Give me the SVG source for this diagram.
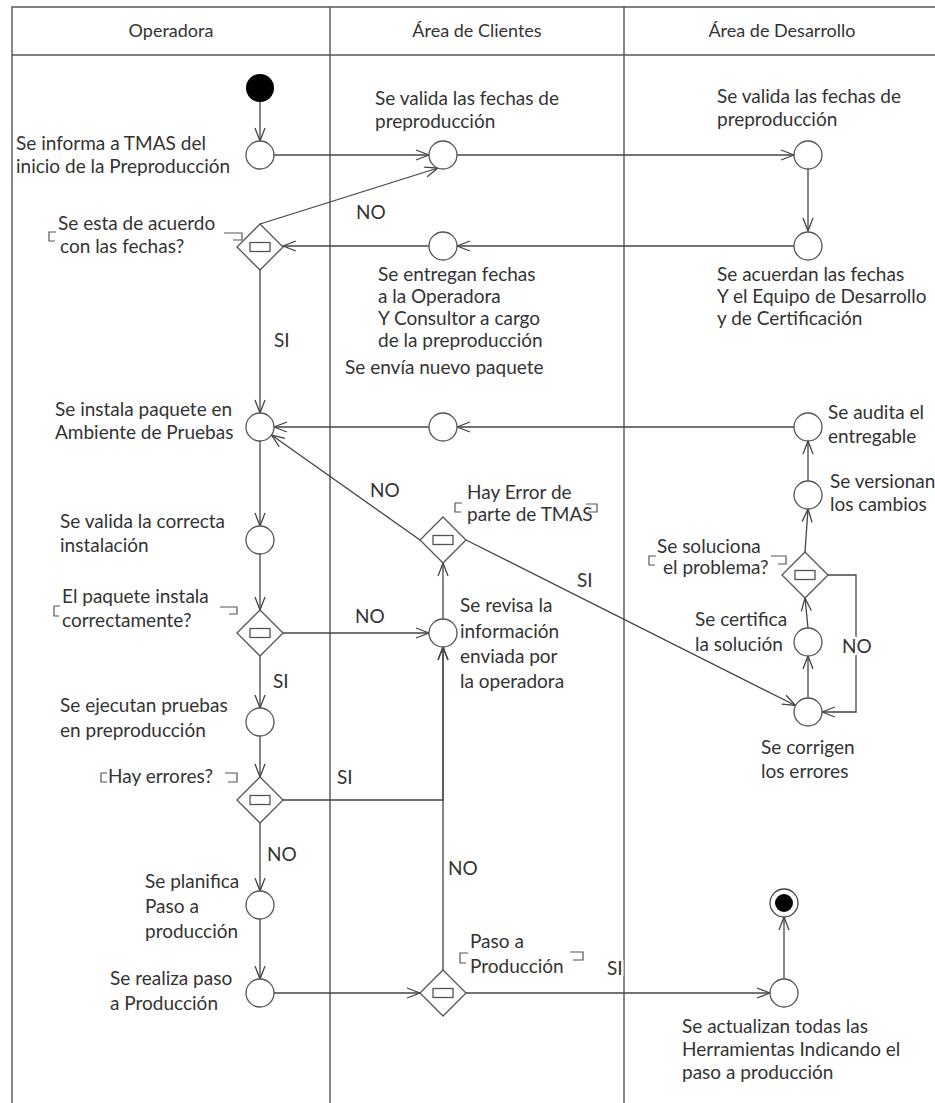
<svg xmlns="http://www.w3.org/2000/svg" width="935" height="1103" viewBox="0 0 935 1103">
<defs>
<style>
text{font-family:Lato,"Open Sans","Liberation Sans",sans-serif;font-size:19px;fill:#333}
.hd{text-anchor:middle;font-size:18px}
.lb{paint-order:stroke;stroke:#fff;stroke-width:5px;stroke-linejoin:round}
.ln{fill:none;stroke:#555;stroke-width:1.4}
.nd{fill:#fff;stroke:#555;stroke-width:1.3}
.ir{fill:#fff;stroke:#555;stroke-width:1.3}
.br{fill:none;stroke:#555;stroke-width:1.2}
.cn{fill:none;stroke:#444;stroke-width:1.3;marker-end:url(#arr)}
</style>
<marker id="arr" markerWidth="15" markerHeight="12" refX="14" refY="6" orient="auto" markerUnits="userSpaceOnUse">
<path d="M1,1 L14,6 L1,11" fill="none" stroke="#444" stroke-width="1.3"/>
</marker>
</defs>
<rect width="935" height="1103" fill="#fff"/>
<g id="lanes">
<path class="ln" d="M12,1103 V7 H935 M12,55 H935 M330,7 V1103 M624,7 V1103"/>
<text class="hd" x="171" y="37">Operadora</text>
<text class="hd" x="477" y="37">Área de Clientes</text>
<text class="hd" x="782" y="37">Área de Desarrollo</text>
</g>
<g id="connectors">
<path class="cn" d="M260,102 V141"/>
<path class="cn" d="M274,155 H429"/>
<path class="cn" d="M457,155 H794"/>
<path class="cn" d="M808,169 V231"/>
<path class="cn" d="M794,246 H457"/>
<path class="cn" d="M429,246 H283"/>
<path class="cn" d="M260,224 L438,168"/>
<path class="cn" d="M260,270 V413"/>
<path class="cn" d="M794,427 H457"/>
<path class="cn" d="M429,427 H274"/>
<path class="cn" d="M260,441 V526"/>
<path class="cn" d="M260,554 V610"/>
<path class="cn" d="M283,633 H429"/>
<path class="cn" d="M260,656 V708"/>
<path class="cn" d="M260,736 V777"/>
<path class="cn" d="M283,800 H443 V647"/>
<path class="cn" d="M260,823 V891"/>
<path class="cn" d="M260,919 V979"/>
<path class="cn" d="M274,993 H420"/>
<path class="cn" d="M443,970 V647"/>
<path class="cn" d="M466,993 H770"/>
<path class="cn" d="M784,979 V917"/>
<path class="cn" d="M443,619 V563"/>
<path class="cn" d="M420,540 L271.5,435"/>
<path class="cn" d="M466,540 L795.5,705.5"/>
<path class="cn" d="M808,698 V656"/>
<path class="cn" d="M808,628 L805,598"/>
<path class="cn" d="M805,552 L808,509"/>
<path class="cn" d="M808,481 V441"/>
<path class="cn" d="M828,575 H856 V712 H822"/>
<text class="lb" x="356" y="219">NO</text>
<text class="lb" x="274" y="347">SI</text>
<text class="lb" x="370" y="497">NO</text>
<text class="lb" x="577" y="587">SI</text>
<text class="lb" x="355" y="623">NO</text>
<text class="lb" x="273" y="688">SI</text>
<text class="lb" x="337" y="784">SI</text>
<text class="lb" x="267" y="861">NO</text>
<text class="lb" x="448" y="875">NO</text>
<text class="lb" x="607" y="975">SI</text>
<text class="lb" x="842" y="653">NO</text>
</g>
<g id="start"><circle cx="260" cy="88" r="14" fill="#000"/></g>
<g id="n-informa">
<circle class="nd" cx="260" cy="155" r="14"/>
<text x="16" y="150">Se informa a TMAS del</text>
<text x="16" y="173">inicio de la Preproducción</text>
</g>
<g id="n-valida-clientes">
<circle class="nd" cx="443" cy="155" r="14"/>
<text x="375" y="105">Se valida las fechas de</text>
<text x="375" y="128">preproducción</text>
</g>
<g id="n-valida-desarrollo">
<circle class="nd" cx="808" cy="155" r="14"/>
<text x="717" y="103">Se valida las fechas de</text>
<text x="717" y="126">preproducción</text>
</g>
<g id="n-acuerdan">
<circle class="nd" cx="808" cy="246" r="14"/>
<text x="717" y="281">Se acuerdan las fechas</text>
<text x="717" y="303">Y el Equipo de Desarrollo</text>
<text x="717" y="325">y de Certificación</text>
</g>
<g id="n-entregan">
<circle class="nd" cx="443" cy="246" r="14"/>
<text x="378" y="281">Se entregan fechas</text>
<text x="378" y="303">a la Operadora</text>
<text x="378" y="325">Y Consultor a cargo</text>
<text x="378" y="347">de la preproducción</text>
</g>
<g id="d-acuerdo">
<path class="nd" d="M260,224 L283,247 L260,270 L237,247 Z"/>
<rect class="ir" x="250" y="242.5" width="20" height="9"/>
<text x="58" y="230">Se esta de acuerdo</text>
<text x="60" y="253">con las fechas?</text>
<path class="br" d="M56,232 H49 V241 H55 M224,233 H242 V240 H233"/>
</g>
<g id="n-instala">
<circle class="nd" cx="260" cy="427" r="14"/>
<text x="55" y="416">Se instala paquete en</text>
<text x="55" y="439">Ambiente de Pruebas</text>
</g>
<g id="n-envia">
<circle class="nd" cx="443" cy="427" r="14"/>
<text x="345" y="374">Se envía nuevo paquete</text>
</g>
<g id="n-audita">
<circle class="nd" cx="808" cy="427" r="14"/>
<text x="828" y="419">Se audita el</text>
<text x="828" y="443">entregable</text>
</g>
<g id="n-versionan">
<circle class="nd" cx="808" cy="495" r="14"/>
<text x="830" y="488">Se versionan</text>
<text x="830" y="511">los cambios</text>
</g>
<g id="d-error-tmas">
<path class="nd" d="M443,517 L466,540 L443,563 L420,540 Z"/>
<rect class="ir" x="433" y="535.5" width="20" height="9"/>
<text x="467" y="499">Hay Error de</text>
<text x="467" y="521">parte de TMAS</text>
<path class="br" d="M462,503 H455 V512 H461 M586,504 H597 V512 H588"/>
</g>
<g id="n-valida-instalacion">
<circle class="nd" cx="260" cy="540" r="14"/>
<text x="60" y="528">Se valida la correcta</text>
<text x="60" y="552">instalación</text>
</g>
<g id="d-soluciona">
<path class="nd" d="M805,552 L828,575 L805,598 L782,575 Z"/>
<rect class="ir" x="795" y="570.5" width="20" height="9"/>
<text x="657" y="553">Se soluciona</text>
<text x="663" y="574">el problema?</text>
<path class="br" d="M656,556 H649 V565 H655 M771,556 H786 V564 H778"/>
</g>
<g id="d-paquete">
<path class="nd" d="M260,610 L283,633 L260,656 L237,633 Z"/>
<rect class="ir" x="250" y="628.5" width="20" height="9"/>
<text x="62" y="603">El paquete instala</text>
<text x="62" y="627">correctamente?</text>
<path class="br" d="M60,606 H54 V616 H59 M220,607 H237 V614 H229"/>
</g>
<g id="n-revisa">
<circle class="nd" cx="443" cy="633" r="14"/>
<text x="460" y="612">Se revisa la</text>
<text x="460" y="638">información</text>
<text x="460" y="663">enviada por</text>
<text x="460" y="688">la operadora</text>
</g>
<g id="n-certifica">
<circle class="nd" cx="808" cy="642" r="14"/>
<text x="695" y="626">Se certifica</text>
<text x="695" y="651">la solución</text>
</g>
<g id="n-corrigen">
<circle class="nd" cx="808" cy="712" r="14"/>
<text x="761" y="754">Se corrigen</text>
<text x="761" y="778">los errores</text>
</g>
<g id="n-ejecutan">
<circle class="nd" cx="260" cy="722" r="14"/>
<text x="60" y="712">Se ejecutan pruebas</text>
<text x="60" y="737">en preproducción</text>
</g>
<g id="d-errores">
<path class="nd" d="M260,777 L283,800 L260,823 L237,800 Z"/>
<rect class="ir" x="250" y="795.5" width="20" height="9"/>
<text x="108" y="783">Hay errores?</text>
<path class="br" d="M107,773 H101 V782 H107 M225,773 H237 V782 H228"/>
</g>
<g id="n-planifica">
<circle class="nd" cx="260" cy="905" r="14"/>
<text x="145" y="888">Se planifica</text>
<text x="145" y="913">Paso a</text>
<text x="145" y="938">producción</text>
</g>
<g id="n-realiza">
<circle class="nd" cx="260" cy="993" r="14"/>
<text x="110" y="985">Se realiza paso</text>
<text x="110" y="1010">a Producción</text>
</g>
<g id="d-paso">
<path class="nd" d="M443,970 L466,993 L443,1016 L420,993 Z"/>
<rect class="ir" x="433" y="988.5" width="20" height="9"/>
<text x="470" y="948">Paso a</text>
<text x="470" y="973">Producción</text>
<path class="br" d="M468,953 H460 V963 H466 M570,952 H583 V960 H573"/>
</g>
<g id="n-actualizan">
<circle class="nd" cx="784" cy="993" r="14"/>
<text x="682" y="1033">Se actualizan todas las</text>
<text x="682" y="1056">Herramientas Indicando el</text>
<text x="682" y="1079">paso a producción</text>
</g>
<g id="end">
<circle cx="784" cy="903" r="14" fill="#fff" stroke="#444" stroke-width="1.3"/>
<circle cx="784" cy="903" r="9" fill="#000"/>
</g>
</svg>
